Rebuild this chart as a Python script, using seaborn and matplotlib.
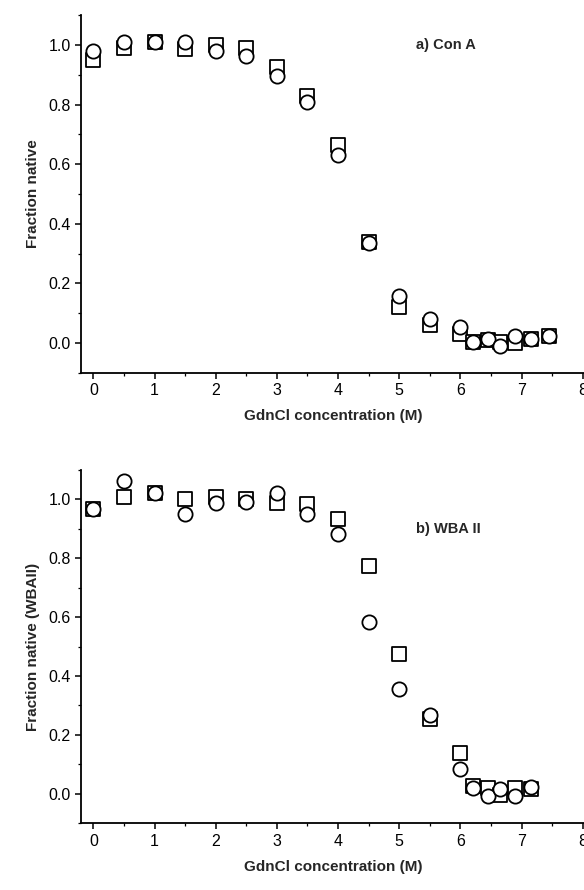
import matplotlib
matplotlib.use("Agg")
import matplotlib.pyplot as plt
import seaborn as sns
import numpy as np
from matplotlib.ticker import MultipleLocator

# panel a) Con A
conc_a = [0, 0.5, 1.0, 1.5, 2.0, 2.5, 3.0, 3.5, 4.0, 4.5, 5.0, 5.5, 6.0,
          6.2, 6.45, 6.65, 6.9, 7.15, 7.45]
cona_square = [0.95, 0.99, 1.01, 0.985, 1.0, 0.99, 0.925, 0.83, 0.665, 0.34, 0.12, 0.06, 0.03,
               0.005, 0.01, 0.005, 0.0, 0.013, 0.023]
cona_circle = [0.98, 1.01, 1.01, 1.01, 0.98, 0.963, 0.897, 0.81, 0.63, 0.337, 0.157, 0.08, 0.053,
               0.003, 0.013, -0.01, 0.023, 0.013, 0.023]

# panel b) WBA II
conc_b = [0, 0.5, 1.0, 1.5, 2.0, 2.5, 3.0, 3.5, 4.0, 4.5, 5.0, 5.5, 6.0,
          6.2, 6.45, 6.65, 6.9, 7.15]
wba_square = [0.967, 1.008, 1.02, 1.0, 1.008, 1.0, 0.988, 0.985, 0.933, 0.773, 0.475, 0.255, 0.14,
              0.025, 0.02, -0.003, 0.02, 0.015]
wba_circle = [0.967, 1.061, 1.02, 0.95, 0.988, 0.99, 1.023, 0.95, 0.883, 0.585, 0.357, 0.268, 0.083,
              0.02, -0.007, 0.015, -0.006, 0.022]

sns.set_style("ticks")
plt.rcParams['font.family'] = ['Liberation Sans', 'DejaVu Sans']

fig = plt.figure(figsize=(5.84, 8.90), dpi=100)
ax_a = fig.add_axes([0.139, 0.581, 0.862, 0.402])
ax_b = fig.add_axes([0.139, 0.075, 0.862, 0.397])

panels = [
    (ax_a, conc_a, cona_square, cona_circle, "a) Con A", 1.0, "Fraction native"),
    (ax_b, conc_b, wba_square, wba_circle, "b) WBA II", 0.9, "Fraction native (WBAII)"),
]

for ax, x, sq, ci, tag, tag_y, ylab in panels:
    sns.scatterplot(x=x, y=sq, marker="s", s=88, facecolor="white", edgecolor="black",
                    linewidth=1.3, ax=ax, zorder=3)
    sns.scatterplot(x=x, y=ci, marker="o", s=105, facecolor="white", edgecolor="black",
                    linewidth=1.3, ax=ax, zorder=4)
    ax.set_xlim(-0.2, 8.03)
    ax.set_ylim(-0.1, 1.1)
    ax.xaxis.set_major_locator(MultipleLocator(1))
    ax.xaxis.set_minor_locator(MultipleLocator(0.5))
    ax.yaxis.set_major_locator(MultipleLocator(0.2))
    ax.yaxis.set_minor_locator(MultipleLocator(0.1))
    ax.set_yticks(np.arange(0, 1.01, 0.2))
    ax.set_yticklabels([f"{v:.1f}" for v in np.arange(0, 1.01, 0.2)])
    ax.tick_params(which="major", length=4, width=1.1, labelsize=11.5, color="black", labelcolor="black")
    ax.tick_params(which="minor", length=2.5, width=0.9, color="black")
    for side in ["left", "bottom"]:
        ax.spines[side].set_linewidth(1.3)
        ax.spines[side].set_color("black")
    sns.despine(ax=ax)
    ax.set_xlabel("GdnCl concentration (M)", fontsize=11, fontweight="bold", labelpad=8)
    ax.set_ylabel(ylab, fontsize=11, fontweight="bold", labelpad=6)
    ax.text(5.28, tag_y, tag, fontsize=10.5, fontweight="bold", va="center", ha="left")

fig.savefig("out.png", dpi=100)
